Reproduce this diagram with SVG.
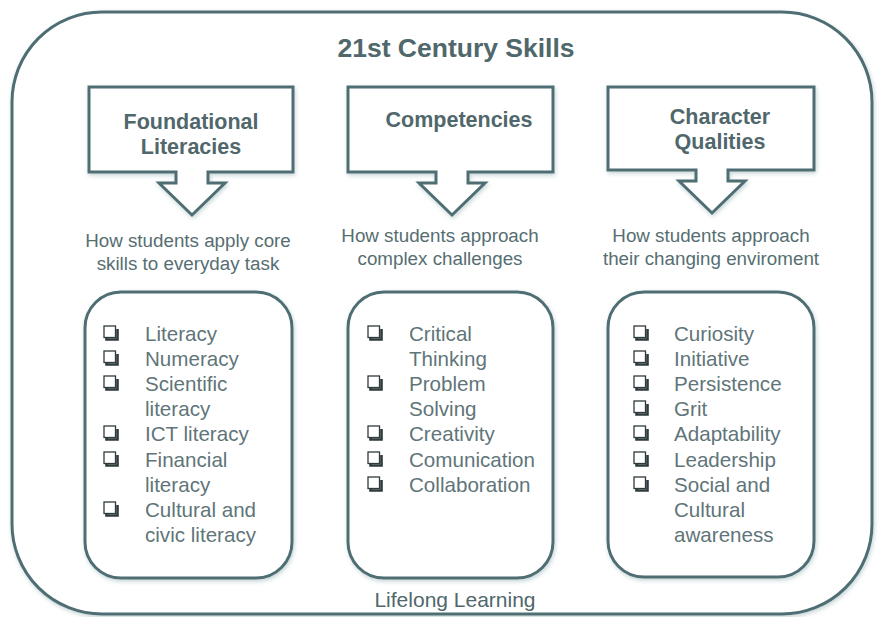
<svg xmlns="http://www.w3.org/2000/svg" width="882" height="617" viewBox="0 0 882 617">
<defs>
<filter id="sh" x="-10%" y="-10%" width="120%" height="120%">
<feGaussianBlur in="SourceAlpha" stdDeviation="2"/>
<feOffset dx="1" dy="2" result="b"/>
<feFlood flood-color="#9fb8bc" flood-opacity="0.6"/>
<feComposite in2="b" operator="in"/>
<feMerge><feMergeNode/><feMergeNode in="SourceGraphic"/></feMerge>
</filter>
<g id="cb">
<path d="M2.5,3 V13.5 H13.5 V3" fill="none" stroke="#2f3b3d" stroke-width="2.6"/>
<rect x="0" y="0" width="11.5" height="11.5" fill="#fff" stroke="#2f3b3d" stroke-width="1.3"/>
</g>
</defs>
<style>
.ln{fill:#fff;stroke:#4f6e73;stroke-width:3}
.t{font-family:"Liberation Sans",Arial,sans-serif;fill:#50676b}
.h{font-size:21.5px;font-weight:bold;text-anchor:middle}
.d{font-size:18.8px;text-anchor:middle;fill:#566e72}
.i{font-size:20.6px;fill:#5f7579}
</style>
<g id="frame">
<rect class="ln" x="12" y="12" width="860" height="602" rx="90" filter="url(#sh)"/>
<text class="t" x="456" y="57" font-size="26.5" font-weight="bold" text-anchor="middle">21st Century Skills</text>
<text class="t" x="455" y="607" font-size="21" text-anchor="middle" fill="#5f7579">Lifelong Learning</text>
</g>
<g id="callout-foundational">
<path class="ln" filter="url(#sh)" d="M89,87 H293 V172 H208 V183 H225 L192,215 L159,183 H176 V172 H89 Z"/>
<text class="t h" x="191" y="129">Foundational</text>
<text class="t h" x="191" y="154">Literacies</text>
<text class="t d" x="188" y="247">How students apply core</text>
<text class="t d" x="188" y="270">skills to everyday task</text>
</g>
<g id="callout-competencies">
<path class="ln" filter="url(#sh)" d="M348,87 H553 V172 H468 V183 H485 L452,215 L419,183 H436 V172 H348 Z"/>
<text class="t h" x="459" y="127">Competencies</text>
<text class="t d" x="440" y="242">How students approach</text>
<text class="t d" x="440" y="265">complex challenges</text>
</g>
<g id="callout-character">
<path class="ln" filter="url(#sh)" d="M608,87 H814 V170 H728 V181 H745 L712,213 L679,181 H696 V170 H608 Z"/>
<text class="t h" x="720" y="124">Character</text>
<text class="t h" x="720" y="149">Qualities</text>
<text class="t d" x="711" y="242">How students approach</text>
<text class="t d" x="711" y="265">their changing enviroment</text>
</g>
<g id="list-foundational">
<rect class="ln" filter="url(#sh)" x="85" y="292" width="207" height="286" rx="36"/>
<use href="#cb" x="104" y="326"/><use href="#cb" x="104" y="351"/><use href="#cb" x="104" y="376"/>
<use href="#cb" x="104" y="426"/><use href="#cb" x="104" y="452"/><use href="#cb" x="104" y="502"/>
<text class="t i" x="145" y="341">Literacy</text>
<text class="t i" x="145" y="366">Numeracy</text>
<text class="t i" x="145" y="391">Scientific</text>
<text class="t i" x="145" y="416">literacy</text>
<text class="t i" x="145" y="441">ICT literacy</text>
<text class="t i" x="145" y="467">Financial</text>
<text class="t i" x="145" y="492">literacy</text>
<text class="t i" x="145" y="517">Cultural and</text>
<text class="t i" x="145" y="542">civic literacy</text>
</g>
<g id="list-competencies">
<rect class="ln" filter="url(#sh)" x="348" y="292" width="205" height="286" rx="36"/>
<use href="#cb" x="368" y="326"/><use href="#cb" x="368" y="376"/><use href="#cb" x="368" y="426"/>
<use href="#cb" x="368" y="452"/><use href="#cb" x="368" y="477"/>
<text class="t i" x="409" y="341">Critical</text>
<text class="t i" x="409" y="366">Thinking</text>
<text class="t i" x="409" y="391">Problem</text>
<text class="t i" x="409" y="416">Solving</text>
<text class="t i" x="409" y="441">Creativity</text>
<text class="t i" x="409" y="467">Comunication</text>
<text class="t i" x="409" y="492">Collaboration</text>
</g>
<g id="list-character">
<rect class="ln" filter="url(#sh)" x="608" y="292" width="206" height="285" rx="36"/>
<use href="#cb" x="634" y="326"/><use href="#cb" x="634" y="351"/><use href="#cb" x="634" y="376"/>
<use href="#cb" x="634" y="401"/><use href="#cb" x="634" y="426"/><use href="#cb" x="634" y="452"/>
<use href="#cb" x="634" y="477"/>
<text class="t i" x="674" y="341">Curiosity</text>
<text class="t i" x="674" y="366">Initiative</text>
<text class="t i" x="674" y="391">Persistence</text>
<text class="t i" x="674" y="416">Grit</text>
<text class="t i" x="674" y="441">Adaptability</text>
<text class="t i" x="674" y="467">Leadership</text>
<text class="t i" x="674" y="492">Social and</text>
<text class="t i" x="674" y="517">Cultural</text>
<text class="t i" x="674" y="542">awareness</text>
</g>
<g id="connectors"></g>
</svg>
